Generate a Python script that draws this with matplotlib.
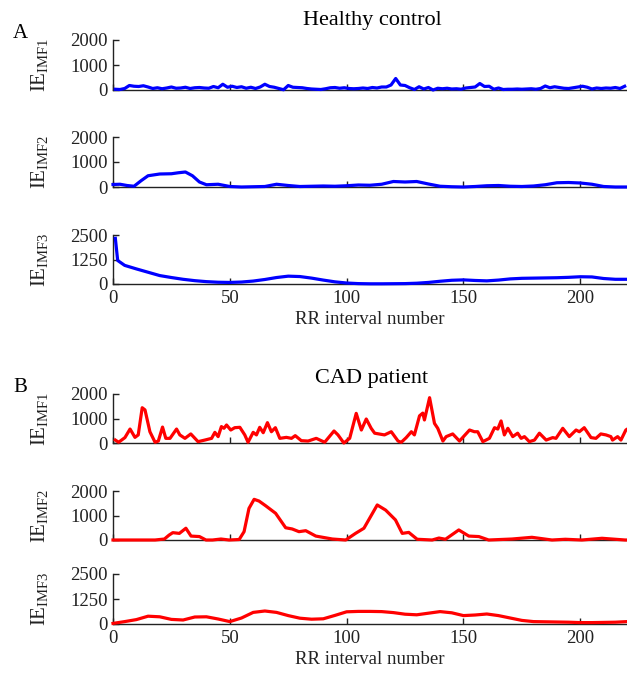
import numpy as np
import matplotlib
matplotlib.use('Agg')
import matplotlib.pyplot as plt

plt.rcParams['font.family'] = ['Liberation Serif', 'DejaVu Serif']
plt.rcParams['mathtext.fontset'] = 'custom'
plt.rcParams['mathtext.rm'] = 'Liberation Serif'
plt.rcParams['mathtext.it'] = 'Liberation Serif:italic'
plt.rcParams['mathtext.bf'] = 'Liberation Serif:bold'

# --- healthy control ---
hc_imf1_x = np.arange(1, 220, 2)
hc_imf1 = [30, 20, 60, 180, 150, 140, 170, 120, 60, 90, 50, 80, 120, 70, 80, 110,
           60, 90, 100, 80, 70, 140, 90, 230, 110, 150, 100, 130, 70, 110, 60, 120,
           230, 140, 110, 60, 10, 180, 110, 100, 90, 60, 40, 30, 20, 50, 90, 100,
           70, 90, 60, 50, 60, 80, 60, 100, 80, 120, 120, 200, 460, 200, 180, 90,
           20, 130, 40, 100, 0, 70, 50, 70, 40, 50, 30, 80, 100, 120, 260, 140,
           150, 30, 80, 20, 30, 30, 40, 30, 40, 50, 30, 60, 160, 90, 130, 100,
           70, 60, 90, 120, 150, 110, 40, 80, 60, 80, 70, 100, 60, 150]

hc_imf2_x = [0, 3, 6, 9, 12, 15, 20, 25, 28, 31, 34, 37, 40, 45, 50, 55, 60, 65, 70,
             75, 80, 85, 90, 95, 100, 105, 110, 115, 120, 125, 130, 135, 140, 145,
             150, 155, 160, 165, 170, 175, 180, 185, 190, 195, 200, 205, 210, 215, 220]
hc_imf2 = [100, 110, 60, 30, 250, 450, 520, 530, 570, 600, 450, 200, 90, 110, 20,
           0, 10, 20, 110, 60, 20, 30, 40, 30, 50, 80, 70, 110, 220, 200, 220, 120,
           30, 10, 0, 20, 50, 60, 30, 20, 40, 90, 170, 180, 160, 110, 20, 0, 0]

hc_imf3_x = [1, 2] + list(range(5, 221, 5))
hc_imf3 = [2330, 1200, 950, 770, 600, 430, 330, 240, 170, 120, 90, 80, 100, 150,
           230, 330, 400, 380, 300, 200, 110, 50, 20, 10, 10, 15, 20, 40, 80, 140,
           190, 210, 180, 160, 200, 260, 290, 300, 310, 320, 340, 370, 360, 280,
           240, 240]

# --- CAD patient ---
cad_imf1_x = [1.0, 2.4, 5.1, 7.3, 9.4, 10.8, 12.5, 13.7, 15.8, 18, 19.4, 21.2, 22.6,
              24.4, 27.2, 28.6, 30.8, 33.3, 36.4, 39.3, 42.2, 43.6, 45, 46.4, 47.5,
              48.6, 50.4, 52.1, 54.3, 56.4, 57.8, 60, 61.4, 62.8, 64.3, 66.1, 67.8,
              69.5, 71.4, 74.2, 76.4, 78, 80.6, 83.5, 87, 90.6, 94.6, 96.3, 98.8,
              101.3, 104.1, 106.3, 108.4, 110.5, 112, 116.2, 119.1, 122, 123.4, 125.5,
              127.7, 129, 131.2, 132.6, 133.3, 135.5, 137.6, 139, 141.2, 142.6, 145.4,
              148.3, 152.6, 154.7, 156.1, 158.3, 161.1, 163.3, 164.7, 166.1, 167.5,
              169, 171.1, 173.2, 174.7, 176.1, 178.2, 180.4, 182.5, 185.4, 188.2,
              189.6, 192.5, 195.3, 198.2, 199.6, 201.7, 204.6, 206.7, 208.8, 211,
              213.1, 213.8, 216, 217.4, 219.5, 220]
cad_imf1 = [120, 30, 220, 570, 230, 330, 1440, 1350, 460, 30, 80, 650, 190,
            190, 570, 330, 190, 370, 55, 120, 190, 435, 260, 670, 600,
            735, 530, 625, 640, 330, 30, 435, 330, 640, 420, 830, 460,
            625, 190, 230, 190, 300, 95, 80, 190, 30, 490, 330, 0,
            190, 1210, 530, 980, 600, 400, 330, 460, 80, 30, 220,
            460, 330, 1110, 1220, 940, 1850, 800, 600, 80, 260, 370,
            80, 530, 460, 460, 55, 190, 625, 570, 900, 330,
            600, 260, 400, 190, 260, 55, 120, 400, 120, 220,
            190, 600, 260, 530, 460, 625, 220, 190, 370, 330,
            260, 120, 260, 120, 530, 560]

cad_imf2_x = [0, 18, 22, 24, 25.6, 28.4, 31.2, 33.4, 37, 39.8, 42.6, 46.2, 49.7, 54,
              56.1, 58.2, 60.4, 62.5, 65.3, 69.6, 73.9, 76.7, 79.6, 82.5, 86.8, 93.9,
              99.6, 103.8, 107.4, 113.1, 116.7, 120.9, 123.8, 126.6, 130.2, 136.6,
              139.5, 142.3, 148, 152.3, 156.6, 160.8, 170.8, 179.3, 187.9, 193.6,
              200.7, 209.3, 219.2, 220]
cad_imf2 = [0, 0, 40, 200, 300, 270, 480, 160, 140, 0, 0, 40, 0, 20,
            340, 1290, 1660, 1590, 1400, 1090, 500, 450, 340, 380, 160, 40,
            0, 270, 480, 1430, 1220, 820, 270, 310, 30, 0,
            80, 30, 410, 160, 140, 0, 40, 110, 0, 30,
            0, 70, 0, 0]

cad_imf3_x = np.arange(0, 221, 5)
cad_imf3 = [30, 120, 220, 390, 360, 230, 200, 350, 360, 250, 120, 300, 580, 650,
            580, 420, 290, 240, 260, 430, 610, 630, 630, 620, 570, 490, 460, 540,
            620, 560, 420, 450, 500, 420, 300, 180, 120, 110, 100, 90, 70, 70, 80,
            90, 120]

x_ticks = [0, 50, 100, 150, 200]
imf_labels = ['IE$_{\\rm IMF1}$', 'IE$_{\\rm IMF2}$', 'IE$_{\\rm IMF3}$']

W, H = 627, 674
fig = plt.figure(figsize=(W / 100, H / 100), dpi=100)


def make_ax(top, bottom):
    # pixel box -> figure fraction
    return fig.add_axes([113 / W, 1 - bottom / H, 514 / W, (bottom - top) / H])


def style(ax, ymax, yticks, label, show_x):
    ax.set_xlim(0, 220)
    ax.set_ylim(0, ymax)
    ax.set_yticks(yticks)
    ax.set_xticks(x_ticks)
    ax.spines['top'].set_visible(False)
    ax.spines['right'].set_visible(False)
    for s in ('left', 'bottom'):
        ax.spines[s].set_linewidth(1.0)
        ax.spines[s].set_color('#222222')
    ax.tick_params(direction='in', length=4, width=1.0, labelsize=13.5,
                   color='#222222', labelcolor='#222222', pad=4)
    if not show_x:
        ax.tick_params(axis='x', labelbottom=False)
    ax.set_ylabel(label, fontsize=15, color='#222222')
    ax.yaxis.set_label_coords(-0.122, 0.5)


boxes_a = [(40, 90), (137, 187), (235, 284)]
boxes_b = [(394, 443), (491, 540), (574, 624)]
series_a = [(hc_imf1_x, hc_imf1), (hc_imf2_x, hc_imf2), (hc_imf3_x, hc_imf3)]
series_b = [(cad_imf1_x, cad_imf1), (cad_imf2_x, cad_imf2), (cad_imf3_x, cad_imf3)]

for boxes, series, color in [(boxes_a, series_a, 'blue'), (boxes_b, series_b, 'red')]:
    for i, ((top, bottom), (xs, ys)) in enumerate(zip(boxes, series)):
        ax = make_ax(top, bottom)
        ax.plot(xs, ys, color=color, lw=2.3, clip_on=False, zorder=3,
                solid_joinstyle='round')
        if i < 2:
            style(ax, 2000, [0, 1000, 2000], imf_labels[i], False)
        else:
            style(ax, 2500, [0, 1250, 2500], imf_labels[i], True)
            ax.set_xlabel('RR interval number', fontsize=13.5, color='#222222', labelpad=3)

fig.text(372 / W, 1 - 20 / H, 'Healthy control', fontsize=16, ha='center', va='center')
fig.text(372 / W, 1 - 378 / H, 'CAD patient', fontsize=16, ha='center', va='center')
fig.text(20 / W, 1 - 33 / H, 'A', fontsize=15, ha='center', va='center')
fig.text(20 / W, 1 - 387 / H, 'B', fontsize=15, ha='center', va='center')

fig.savefig('out.png', dpi=100)
